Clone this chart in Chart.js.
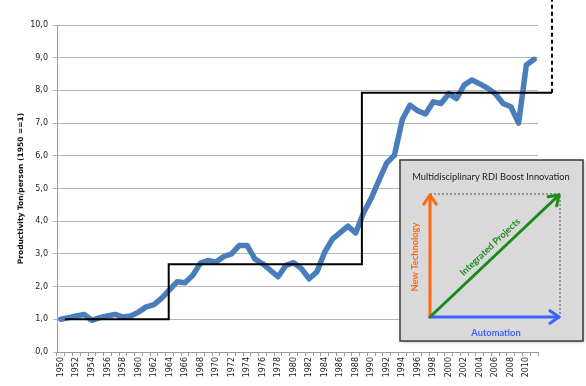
<!DOCTYPE html>
<html>
<head>
<meta charset="utf-8">
<script src="https://cdn.jsdelivr.net/npm/chart.js@4.4.0/dist/chart.umd.min.js"></script>
<style>
  html, body { margin: 0; padding: 0; background: #fff; }
</style>
</head>
<body>
<canvas id="chart" width="586" height="386"></canvas>
<script>
// categories
const years = [
    '1950', '1951', '1952', '1953', '1954', '1955', '1956', '1957', '1958', '1959',
    '1960', '1961', '1962', '1963', '1964', '1965', '1966', '1967', '1968', '1969',
    '1970', '1971', '1972', '1973', '1974', '1975', '1976', '1977', '1978', '1979',
    '1980', '1981', '1982', '1983', '1984', '1985', '1986', '1987', '1988', '1989',
    '1990', '1991', '1992', '1993', '1994', '1995', '1996', '1997', '1998', '1999',
    '2000', '2001', '2002', '2003', '2004', '2005', '2006', '2007', '2008', '2009',
    '2010', '2011'
];

// productivity index (1950 = 1)
const productivity = [
    1.00, 1.05, 1.10, 1.15, 0.97, 1.05, 1.10, 1.15, 1.07, 1.10,
    1.22, 1.38, 1.45, 1.65, 1.90, 2.15, 2.12, 2.35, 2.72, 2.80,
    2.75, 2.92, 3.00, 3.26, 3.26, 2.85, 2.70, 2.50, 2.30, 2.65,
    2.73, 2.55, 2.24, 2.45, 3.05, 3.45, 3.65, 3.85, 3.64, 4.25,
    4.70, 5.25, 5.78, 6.02, 7.10, 7.55, 7.38, 7.28, 7.65, 7.60,
    7.90, 7.75, 8.17, 8.32, 8.20, 8.07, 7.90, 7.60, 7.50, 7.00,
    8.78, 8.95
];

// step line (technology levels)
const stepYears = [1950.5, 1963.9, 1963.9, 1988.8, 1988.8, 2013.3];
const stepLevels = [1.00, 1.00, 2.68, 2.68, 7.93, 7.93];
const dashYears = [2013.3, 2013.3];
const dashLevels = [7.93, 10.9];

// inset texts
const insetTitle = 'Multidisciplinary RDI Boost Innovation';
const labelTech = 'New Technology';
const labelIntegrated = 'Integrated Projects';
const labelAutomation = 'Automation';

function toPoints(xs, ys) {
    return xs.map((x, i) => ({ x: x, y: ys[i] }));
}

function arrowHead(ctx, x, y, angle, size) {
    ctx.beginPath();
    ctx.moveTo(x - size * Math.cos(angle - 0.6), y - size * Math.sin(angle - 0.6));
    ctx.lineTo(x, y);
    ctx.lineTo(x - size * Math.cos(angle + 0.6), y - size * Math.sin(angle + 0.6));
    ctx.stroke();
}

const insetPlugin = {
    id: 'inset',
    afterDraw(chart) {
        const ctx = chart.ctx;
        const bx = 400, by = 160, bw = 183, bh = 181;
        ctx.save();
        // box
        ctx.shadowColor = 'rgba(0,0,0,0.35)';
        ctx.shadowBlur = 3;
        ctx.shadowOffsetX = 1;
        ctx.shadowOffsetY = 1;
        ctx.fillStyle = '#d9d9d9';
        ctx.fillRect(bx, by, bw, bh);
        ctx.shadowColor = 'transparent';
        ctx.strokeStyle = '#3a3a3a';
        ctx.lineWidth = 1.5;
        ctx.strokeRect(bx, by, bw, bh);

        // title
        ctx.fillStyle = '#222';
        ctx.font = '9.3px Lato';
        ctx.textAlign = 'center';
        ctx.textBaseline = 'middle';
        ctx.fillText(insetTitle, bx + 91, by + 17);

        const x0 = 430, y0 = 317, x1 = 560, y1 = 194;

        // dashed rectangle
        ctx.strokeStyle = '#555';
        ctx.lineWidth = 1;
        ctx.setLineDash([2, 2]);
        ctx.beginPath();
        ctx.moveTo(x0, y1);
        ctx.lineTo(x1, y1);
        ctx.lineTo(x1, y0);
        ctx.stroke();
        ctx.setLineDash([]);

        ctx.lineWidth = 3;
        ctx.lineCap = 'round';
        ctx.lineJoin = 'round';

        // orange arrow
        ctx.strokeStyle = '#ff6a10';
        ctx.beginPath();
        ctx.moveTo(x0, y0);
        ctx.lineTo(x0, y1 + 1);
        ctx.stroke();
        arrowHead(ctx, x0, y1 + 1, -Math.PI / 2, 11);

        // blue arrow
        ctx.strokeStyle = '#3d63ff';
        ctx.beginPath();
        ctx.moveTo(x0, y0);
        ctx.lineTo(x1 - 1, y0);
        ctx.stroke();
        arrowHead(ctx, x1 - 1, y0, 0, 11);

        // green arrow
        const ang = Math.atan2(y1 - y0, x1 - x0);
        ctx.strokeStyle = '#1a8a1a';
        ctx.beginPath();
        ctx.moveTo(x0, y0);
        ctx.lineTo(x1 - 1, y1 + 1);
        ctx.stroke();
        arrowHead(ctx, x1 - 1, y1 + 1, ang, 11);

        // labels
        ctx.font = 'bold 9.3px Lato';
        ctx.fillStyle = '#ff6a10';
        ctx.save();
        ctx.translate(415, 257);
        ctx.rotate(-Math.PI / 2);
        ctx.fillText(labelTech, 0, 0);
        ctx.restore();

        ctx.fillStyle = '#1a8a1a';
        ctx.save();
        ctx.translate(490, 247);
        ctx.rotate(ang);
        ctx.fillText(labelIntegrated, 0, 0);
        ctx.restore();

        ctx.fillStyle = '#3d63ff';
        ctx.fillText(labelAutomation, 496, 333);
        ctx.restore();
    }
};

const ctx = document.getElementById('chart').getContext('2d');
const chart = new Chart(ctx, {
    type: 'line',
    data: {
        labels: years,
        datasets: [{
            label: 'Productivity',
            data: productivity,
            borderColor: '#4a7ebb',
            borderWidth: 5.5,
            borderJoinStyle: 'round',
            borderCapStyle: 'round',
            pointRadius: 0,
            fill: false,
            order: 2
        }, {
            label: 'Step',
            data: toPoints(stepYears, stepLevels),
            xAxisID: 'x2',
            borderColor: '#000',
            borderWidth: 2,
            pointRadius: 0,
            fill: false,
            clip: false,
            order: 1
        }, {
            label: 'Step dashed',
            data: toPoints(dashYears, dashLevels),
            xAxisID: 'x2',
            borderColor: '#000',
            borderWidth: 2,
            borderDash: [4, 3],
            pointRadius: 0,
            fill: false,
            clip: false,
            order: 1
        }]
    },
    options: {
        responsive: false,
        animation: false,
        layout: {
            padding: { top: 25, right: 48, left: 0, bottom: 0 }
        },
        plugins: {
            legend: { display: false },
            tooltip: { enabled: false }
        },
        scales: {
            x: {
                type: 'category',
                offset: true,
                afterFit: scale => { scale.height = 34; },
                grid: {
                    offset: true,
                    drawOnChartArea: false,
                    drawTicks: true,
                    tickLength: 4,
                    color: '#9a9a9a'
                },
                border: { color: '#9a9a9a' },
                ticks: {
                    autoSkip: false,
                    minRotation: 90,
                    maxRotation: 90,
                    padding: 1,
                    color: '#222',
                    font: { family: 'DejaVu Sans', size: 8 },
                    callback: function (value, index) {
                        return index % 2 === 0 ? this.getLabelForValue(value) : '';
                    }
                }
            },
            x2: {
                type: 'linear',
                display: false,
                min: 1949.5,
                max: 2011.5
            },
            y: {
                min: 0,
                max: 10,
                afterFit: scale => { scale.width = 57; },
                grid: {
                    color: '#b5b5b5',
                    tickLength: 4
                },
                border: { color: '#9a9a9a' },
                ticks: {
                    stepSize: 1,
                    padding: 5,
                    color: '#222',
                    font: { family: 'DejaVu Sans', size: 8 },
                    callback: value => value.toFixed(1).replace('.', ',')
                },
                title: {
                    display: true,
                    text: 'Productivity Ton/person (1950 ==1)',
                    color: '#111',
                    font: { family: 'DejaVu Sans', size: 7.5, weight: 'bold' },
                    padding: { top: 16.5, bottom: 0 }
                }
            }
        }
    },
    plugins: [insetPlugin]
});
</script>
</body>
</html>
